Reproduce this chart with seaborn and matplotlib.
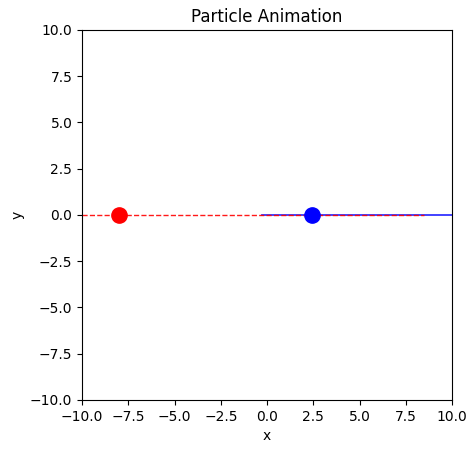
import numpy as np
import pandas as pd
import seaborn as sns
from matplotlib import pyplot as plt

# Trail end points and current particle positions.
red_trail_x = [-10.0, 8.5]
red_trail_y = [0.0, 0.0]
blue_trail_x = [-0.3, 10.0]
blue_trail_y = [0.0, 0.0]
particle_x = [-8.0, 2.4]
particle_y = [0.0, 0.0]
particle_colors = ['red', 'blue']

fig = plt.figure(figsize=(4.77, 4.53), dpi=100)
ax = fig.add_axes([0.172, 0.117, 0.776, 0.817])

red_trail = pd.DataFrame({'x': red_trail_x, 'y': red_trail_y})
blue_trail = pd.DataFrame({'x': blue_trail_x, 'y': blue_trail_y})

sns.lineplot(data=blue_trail, x='x', y='y', color='blue', linewidth=1.3,
             alpha=0.8, ax=ax)
sns.lineplot(data=red_trail, x='x', y='y', color='red', linestyle='--',
             linewidth=1, alpha=0.9, ax=ax)

# Particles themselves.
for px, py, c in zip(particle_x, particle_y, particle_colors):
    ax.plot(px, py, 'o', color=c, markersize=11)

ax.set_xlim(-10, 10)
ax.set_ylim(-10, 10)
ax.set_aspect('equal')
ax.set_xlabel('x')
ax.set_ylabel('y')
ax.set_title('Particle Animation')

fig.savefig('out.png', dpi=100)
